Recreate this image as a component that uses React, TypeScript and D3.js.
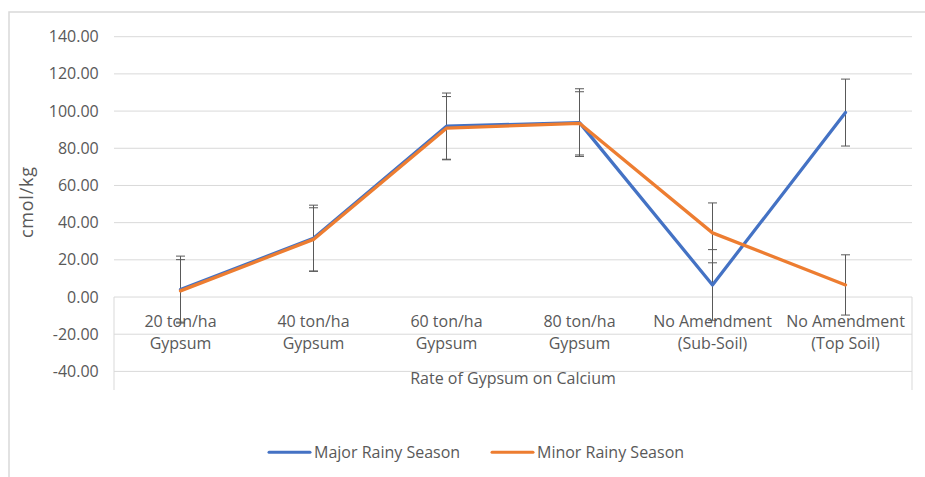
import React from "react";
import * as d3 from "d3";

const categories = [
  ["20 ton/ha", "Gypsum"],
  ["40 ton/ha", "Gypsum"],
  ["60 ton/ha", "Gypsum"],
  ["80 ton/ha", "Gypsum"],
  ["No Amendment", "(Sub-Soil)"],
  ["No Amendment", "(Top Soil)"],
];
const majorValues = [4.0, 31.6, 91.9, 93.8, 6.5, 99.2];
const majorErrors = [18.0, 17.8, 17.8, 18.2, 19.0, 18.0];
const minorValues = [3.3, 31.0, 90.8, 93.4, 34.5, 6.5];
const minorErrors = [16.8, 17.0, 17.0, 17.0, 16.1, 16.2];
const yTicks = [-40, -20, 0, 20, 40, 60, 80, 100, 120, 140];

const seriesList = [
  { name: "Major Rainy Season", values: majorValues, errors: majorErrors, color: "#4472C4" },
  { name: "Minor Rainy Season", values: minorValues, errors: minorErrors, color: "#ED7D31" },
];

const FONT = "'Open Sans', sans-serif";
const TEXT = "#595959";
const GRID = "#d9d9d9";

export default function App() {
  const W = 925, H = 477;
  const left = 114, right = 912, top = 36.7, bottom = 390;
  const keys = categories.map((c, i) => String(i));
  const x = d3.scaleBand<string>().domain(keys).range([left, right]).padding(0);
  const cx = (i: number) => (x(String(i)) as number) + x.bandwidth() / 2;
  const y = d3.scaleLinear().domain([-50, 140]).range([bottom, top]);
  const fmt = (v: number) => d3.format(".2f")(v).replace("\u2212", "-");
  const line = d3
    .line<number>()
    .x((_, i) => cx(i))
    .y((v) => y(v));
  const capW = 4.5;

  return (
    <svg
      width={W}
      height={H}
      style={{ position: "absolute", left: 0, top: 0, background: "#fff" }}
      fontFamily={FONT}
    >
      <rect x={9} y={12} width={W} height={H} fill="#fff" stroke={GRID} strokeWidth={1.5} />
      {yTicks.map((t) => (
        <g key={t}>
          <line x1={left} x2={right} y1={y(t)} y2={y(t)} stroke={GRID} strokeWidth={1} />
          <text
            x={98.7}
            y={y(t)}
            dy="0.35em"
            textAnchor="end"
            fontSize={16}
            fill={TEXT}
          >
            {fmt(t)}
          </text>
        </g>
      ))}
      <line x1={left} x2={left} y1={y(0)} y2={bottom} stroke={GRID} strokeWidth={1} />
      <line x1={right} x2={right} y1={y(0)} y2={bottom} stroke={GRID} strokeWidth={1} />

      {seriesList.map((s) =>
        s.values.map((v, i) => {
          const hi = y(v + s.errors[i]);
          const lo = y(v - s.errors[i]);
          const xc = cx(i);
          return (
            <g key={s.name + i} stroke="#595959" strokeWidth={1}>
              <line x1={xc} x2={xc} y1={hi} y2={lo} />
              <line x1={xc - capW} x2={xc + capW} y1={hi} y2={hi} />
              <line x1={xc - capW} x2={xc + capW} y1={lo} y2={lo} />
            </g>
          );
        })
      )}

      {seriesList.map((s) => (
        <path
          key={s.name}
          d={line(s.values) || ""}
          fill="none"
          stroke={s.color}
          strokeWidth={3.25}
          strokeLinejoin="round"
          strokeLinecap="round"
        />
      ))}

      {categories.map((c, i) => (
        <text key={i} textAnchor="middle" fontSize={16} fill={TEXT}>
          <tspan x={cx(i)} y={326.5}>{c[0]}</tspan>
          <tspan x={cx(i)} y={349}>{c[1]}</tspan>
        </text>
      ))}
      <text x={513} y={384} textAnchor="middle" fontSize={16} fill={TEXT}>
        Rate of Gypsum on Calcium
      </text>
      <text
        transform={`translate(33,202.5) rotate(-90)`}
        textAnchor="middle"
        fontSize={18}
        textLength={71}
        fill={TEXT}
      >
        cmol/kg
      </text>

      {seriesList.map((s, i) => {
        const lx = i === 0 ? 269 : 492;
        return (
          <g key={s.name}>
            <line
              x1={lx}
              x2={lx + 41}
              y1={452.3}
              y2={452.3}
              stroke={s.color}
              strokeWidth={3}
              strokeLinecap="round"
            />
            <text x={lx + 45} y={452.3} dy="0.35em" fontSize={16} fill={TEXT}>
              {s.name}
            </text>
          </g>
        );
      })}
    </svg>
  );
}
